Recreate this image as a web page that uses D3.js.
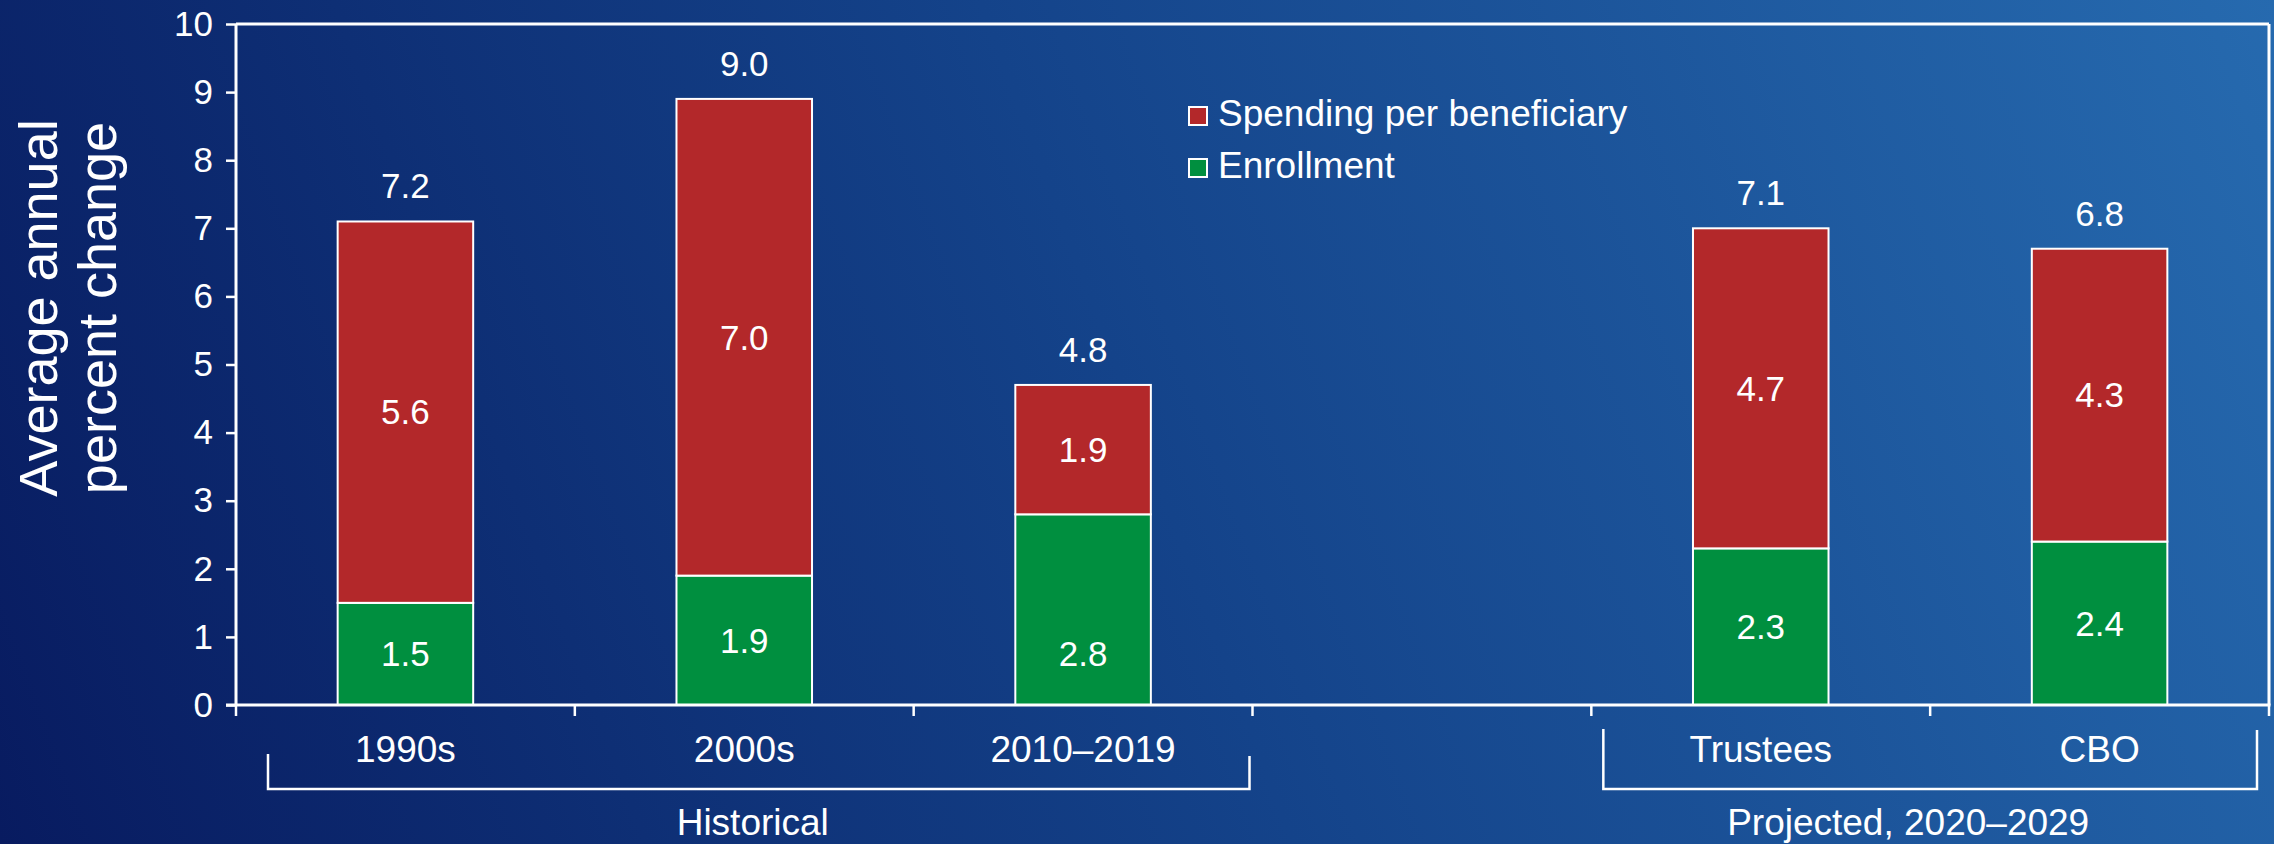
<!DOCTYPE html>
<html>
<head>
<meta charset="utf-8">
<script src="https://cdn.jsdelivr.net/npm/d3@7"></script>
<style>
  html, body { margin: 0; padding: 0; }
  svg { display: block; }
  text { font-family: "Liberation Sans", Arial, sans-serif; fill: #fff; }
</style>
</head>
<body>
<svg id="chart" width="2274" height="844"></svg>
<script>
// ---- data ----
const categories = ["1990s", "2000s", "2010\u20132019", "", "Trustees", "CBO"];
const enrollment = [1.5, 1.9, 2.8, null, 2.3, 2.4];
const spendingPerBeneficiary = [5.6, 7.0, 1.9, null, 4.7, 4.3];
const totals = [7.2, 9.0, 4.8, null, 7.1, 6.8];
const yTicks = [0, 1, 2, 3, 4, 5, 6, 7, 8, 9, 10];
const seriesNames = ["Spending per beneficiary", "Enrollment"];
const groups = [
  { label: "Historical", from: "1990s", to: "2010\u20132019" },
  { label: "Projected, 2020\u20132029", from: "Trustees", to: "CBO" }
];

(function () {
// ---- layout ----
const W = 2274, H = 844;
const pLeft = 236, pRight = 2269, pTop = 24, pBottom = 705;
const RED = "#b3282a", GREEN = "#008f3f";
const svg = d3.select("#chart");

const defs = svg.append("defs");
const grad = defs.append("linearGradient").attr("id", "bg")
  .attr("gradientUnits", "userSpaceOnUse")
  .attr("x1", 0).attr("y1", H).attr("x2", W).attr("y2", 0);
grad.append("stop").attr("offset", 0).attr("stop-color", "#081b60");
grad.append("stop").attr("offset", 0.5).attr("stop-color", "#14438a");
grad.append("stop").attr("offset", 1).attr("stop-color", "#266aaf");
svg.append("rect").attr("width", W).attr("height", H).attr("fill", "url(#bg)");

const x = d3.scaleBand().domain(categories.map((c, i) => i)).range([pLeft, pRight]).paddingInner(0).paddingOuter(0);
const y = d3.scaleLinear().domain([0, 10]).range([pBottom, pTop]);
const barW = x.bandwidth() * 0.4;

// bars
const rows = categories.map((c, i) => ({ i, c, e: enrollment[i], s: spendingPerBeneficiary[i], t: totals[i] }))
  .filter(d => d.e != null);

const g = svg.append("g");
rows.forEach(d => {
  const cx = x(d.i) + x.bandwidth() / 2;
  g.append("rect").attr("x", cx - barW / 2).attr("width", barW)
    .attr("y", y(d.e)).attr("height", y(0) - y(d.e))
    .attr("fill", GREEN).attr("stroke", "#fff").attr("stroke-width", 2);
  g.append("rect").attr("x", cx - barW / 2).attr("width", barW)
    .attr("y", y(d.e + d.s)).attr("height", y(d.e) - y(d.e + d.s))
    .attr("fill", RED).attr("stroke", "#fff").attr("stroke-width", 2);
  // labels
  const nudge = d.c === "2010\u20132019" ? 0.65 : 0;  // reference places this label lower
  g.append("text").attr("x", cx).attr("y", y(d.e / 2 - nudge)).attr("dy", "0.35em")
    .attr("text-anchor", "middle").attr("font-size", 35).text(d.e.toFixed(1));
  g.append("text").attr("x", cx).attr("y", y(d.e + d.s / 2)).attr("dy", "0.35em")
    .attr("text-anchor", "middle").attr("font-size", 35).text(d.s.toFixed(1));
  g.append("text").attr("x", cx).attr("y", y(d.e + d.s) - 23)
    .attr("text-anchor", "middle").attr("font-size", 35).text(d.t.toFixed(1));
});

// y axis
const yAxis = d3.axisLeft(y).tickValues(yTicks).tickSize(10).tickPadding(13).tickFormat(d3.format("d"));
const ya = svg.append("g").attr("transform", `translate(${pLeft},0)`).call(yAxis);
ya.select(".domain").remove();
ya.selectAll("line").attr("stroke", "#fff").attr("stroke-width", 2.5);
ya.selectAll("text").attr("font-size", 35).attr("fill", "#fff")
  .style("font-family", '"Liberation Sans", Arial, sans-serif');

// frame lines
const frame = svg.append("g").attr("stroke", "#fff").attr("stroke-width", 3).attr("fill", "none");
frame.append("line").attr("x1", pLeft).attr("x2", pLeft).attr("y1", pTop).attr("y2", pBottom);
frame.append("line").attr("x1", pLeft).attr("x2", pRight).attr("y1", pTop).attr("y2", pTop);
frame.append("line").attr("x1", pRight).attr("x2", pRight).attr("y1", pTop).attr("y2", pBottom);
frame.append("line").attr("x1", pLeft - 10).attr("x2", pRight + 1.5).attr("y1", pBottom).attr("y2", pBottom);

// x ticks at band boundaries
const boundaries = categories.map((c, i) => x(i)).concat([pRight]);
svg.append("g").selectAll("line").data(boundaries).join("line")
  .attr("x1", d => d).attr("x2", d => d).attr("y1", pBottom).attr("y2", pBottom + 11)
  .attr("stroke", "#fff").attr("stroke-width", 2.5);

// category labels
svg.append("g").selectAll("text").data(categories.map((c, i) => ({ c, i })).filter(d => d.c))
  .join("text")
  .attr("x", d => x(d.i) + x.bandwidth() / 2).attr("y", 762)
  .attr("text-anchor", "middle").attr("font-size", 37).text(d => d.c);

// group brackets
const idx = c => categories.indexOf(c);
const bracketSpecs = [
  { g: groups[0], x0: x(idx(groups[0].from)) + 32, x1: x(idx(groups[0].to)) + x.bandwidth() - 3, yTopL: 754, yTopR: 756, dx: -6 },
  { g: groups[1], x0: x(idx(groups[1].from)) + 12, x1: x(idx(groups[1].to)) + x.bandwidth() - 12, yTopL: 729, yTopR: 730, dx: -22 }
];
bracketSpecs.forEach(b => {
  svg.append("path")
    .attr("d", `M${b.x0},${b.yTopL} L${b.x0},789 L${b.x1},789 L${b.x1},${b.yTopR}`)
    .attr("fill", "none").attr("stroke", "#fff").attr("stroke-width", 2.5);
  svg.append("text").attr("x", (b.x0 + b.x1) / 2 + b.dx).attr("y", 835)
    .attr("text-anchor", "middle").attr("font-size", 37).text(b.g.label);
});

// legend
const legend = svg.append("g");
[RED, GREEN].forEach((col, k) => {
  const ly = 107 + k * 52;
  legend.append("rect").attr("x", 1189).attr("y", ly).attr("width", 18).attr("height", 18)
    .attr("fill", col).attr("stroke", "#fff").attr("stroke-width", 2);
  legend.append("text").attr("x", 1218).attr("y", ly + 19).attr("font-size", 37).text(seriesNames[k]);
});

// y title
const yt = svg.append("text").attr("transform", "translate(0,308) rotate(-90)")
  .attr("text-anchor", "middle").attr("font-size", 54);
yt.append("tspan").attr("x", 0).attr("y", 57).text("Average annual");
yt.append("tspan").attr("x", 0).attr("y", 116).text("percent change");
})();
</script>
</body>
</html>
